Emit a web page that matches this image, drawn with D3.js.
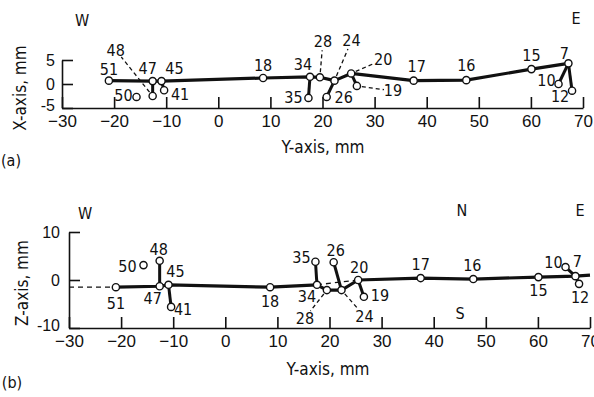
<!DOCTYPE html>
<html><head><meta charset="utf-8">
<script src="https://cdn.jsdelivr.net/npm/d3@7"></script>
<style>
body{margin:0;background:#fff;}
svg{display:block;font-family:"Liberation Sans Narrow","DejaVu Sans Condensed",sans-serif;}
</style></head><body>
<svg id="c" width="594" height="397"></svg>
<script>
// ---- data ----
const ids   = [51, 50, 48, 47, 45, 41, 18, 35, 34, 28, 26, 24, 20, 19, 17, 16, 15, 10, 7, 12];
const yVals = [-21, -15.7, -12.6, -12.6, -10.9, -10.4, 8.6, 17.3, 17.6, 19.5, 20.8, 22.3, 25.5, 26.6, 37.5, 47.6, 60.1, 65.3, 67.2, 67.9];
const xVals = [0.7, -2.7, -2.5, 0.6, 0.6, -1.3, 1.25, -2.9, 1.5, 1.4, -2.7, 0.7, 2.2, -0.4, 0.7, 0.8, 3.1, 0.0, 4.3, -1.4];
const zVals = [-1.5, 3.1, 4, -1.3, -1, -5.6, -1.5, 3.8, -1, -2.1, 3.7, -2.1, 0, -3.5, 0.4, 0.2, 0.6, 2.7, 0.8, -0.8];
const mainPath = [51, 47, 45, 18, 34, 28, 24, 20, 17, 16, 15, 7];
const branches = [[47, 48], [45, 41], [34, 35], [24, 26], [20, 19], [7, 10], [7, 12]];
const tailB = {y: 70, z: 1.0};        // trace continues past the plot edge in (b)
const startB = {y: -30, z: -1.5};     // dashed lead-in in (b)
const yTicks = [-30, -20, -10, 0, 10, 20, 30, 40, 50, 60, 70];
const xTicks = [-5, 0, 5];
const zTicks = [-10, 0, 10];

// ---- layout (label offsets in px) ----
const offA = {51:[0,-11],50:[-13,-1],48:[-37,-46],47:[-5,-13],45:[13,-13],41:[16,4],18:[0,-13],35:[-15,0],34:[-7,-12],
  28:[3,-36],26:[17,1],24:[17,-40],20:[32,-14],19:[36,5],17:[3,-14],16:[0,-15],15:[0,-14],10:[-12,-4],7:[-4,-10],12:[-12,6]};
const leadA = {48:true,28:true,24:true,20:true,19:true};
const offB = {51:[0,16],50:[-16,1],48:[-1,-11],47:[-7,12],45:[7,-13],41:[12,3],18:[0,14],35:[-14,-4],34:[-10,12],
  28:[-22,28],26:[2,-12],24:[23,26],20:[1,-13],19:[16,-1],17:[0,-14],16:[-1,-14],15:[0,13],10:[-12,-5],7:[2,-15],12:[1,14]};
const leadB = {28:true,24:true};

const pts = ids.map((id,i)=>({id, y:yVals[i], x:xVals[i], z:zVals[i]}));
const byId = {}; pts.forEach(p=>byId[p.id]=p);

const svg = d3.select("#c");

function panel(cfg){
  const g = svg.append("g");
  const sx = d3.scaleLinear([-30,70],[cfg.x0,cfg.x1]);
  const sy = d3.scaleLinear(cfg.vdom,[cfg.yb,cfg.yt]);
  const v = cfg.key;
  // x axis
  const ax = g.append("g").attr("transform",`translate(0,${cfg.yb})`)
    .call(d3.axisBottom(sx).tickValues(yTicks).tickSizeInner(-11).tickSizeOuter(0).tickPadding(6).tickFormat(d3.format("d")));
  // y axis
  const ay = g.append("g").attr("transform",`translate(${cfg.x0},0)`)
    .call(d3.axisLeft(sy).tickValues(cfg.vticks).tickSizeInner(-11).tickSizeOuter(0).tickPadding(cfg.ypad).tickFormat(d=>d));
  [ax,ay].forEach(a=>{
    a.selectAll("path,line").attr("stroke","#111").attr("stroke-width",1.6);
    a.selectAll("text").attr("fill","#111").attr("font-family",null);
  });
  ax.selectAll("text").attr("font-size",17);
  ay.selectAll("text").attr("font-size",16);
  ax.selectAll(".tick text").attr("dy","0.75em");
  ay.selectAll(".tick text").attr("dy",(d,i)=> i===0 ? "0.15em" : "0.35em");
  // dashed items
  (cfg.dashed||[]).forEach(seg=>{
    g.append("line").attr("x1",sx(seg[0].y)).attr("y1",sy(seg[0][v])).attr("x2",sx(seg[1].y)).attr("y2",sy(seg[1][v]))
      .attr("stroke","#111").attr("stroke-width",1.3).attr("stroke-dasharray","5,4");
  });
  // main trace
  const line = d3.line().x(d=>sx(d.y)).y(d=>sy(d[v]));
  const mp = mainPath.map(id=>byId[id]).concat(cfg.tail?[cfg.tail]:[]);
  g.append("path").attr("d",line(mp)).attr("fill","none").attr("stroke","#111").attr("stroke-width",3.2).attr("stroke-linejoin","round");
  branches.forEach(b=>{
    g.append("path").attr("d",line(b.map(id=>byId[id]))).attr("fill","none").attr("stroke","#111").attr("stroke-width",3);
  });
  // leaders
  const off = cfg.off, lead = cfg.lead;
  pts.forEach(p=>{
    if(!lead[p.id]) return;
    const px=sx(p.y), py=sy(p[v]);
    const lx=px+off[p.id][0], ly=py+off[p.id][1];
    const dx=lx-px, dy=ly-py, L=Math.hypot(dx,dy);
    const s=5/L, e=(L-9)/L;
    g.append("line").attr("x1",px+dx*s).attr("y1",py+dy*s).attr("x2",px+dx*e).attr("y2",py+dy*e)
      .attr("stroke","#111").attr("stroke-width",1.3).attr("stroke-dasharray","4,3");
  });
  // markers
  g.selectAll("circle.pt").data(pts).join("circle").attr("class","pt")
    .attr("cx",d=>sx(d.y)).attr("cy",d=>sy(d[v])).attr("r",3.6)
    .attr("fill","#fff").attr("stroke","#111").attr("stroke-width",1.4);
  // labels
  g.selectAll("text.lab").data(pts).join("text").attr("class","lab")
    .attr("x",d=>sx(d.y)+off[d.id][0]).attr("y",d=>sy(d[v])+off[d.id][1])
    .attr("text-anchor","middle").attr("dominant-baseline","central")
    .attr("font-size",16).attr("fill","#111").text(d=>d.id);
  // titles
  g.append("text").attr("x",cfg.titleX).attr("y",cfg.titleY).attr("text-anchor","middle").attr("font-size",17).attr("fill","#111").text("Y-axis, mm");
  g.append("text").attr("transform",`translate(${cfg.vtX},${cfg.vtY}) rotate(-90)`).attr("text-anchor","middle")
    .attr("dominant-baseline","central").attr("font-size",17).attr("fill","#111").text(cfg.vtitle);
  cfg.notes.forEach(n=>g.append("text").attr("x",n[1]).attr("y",n[2]).attr("text-anchor","middle").attr("dominant-baseline","central")
    .attr("font-size",16).attr("fill","#111").text(n[0]));
}

panel({key:"x", x0:62, x1:583, yb:108, yt:60, vdom:[-5,5], vticks:xTicks, off:offA, lead:leadA, ypad:7,
  titleX:323, titleY:153, vtX:20, vtY:88, vtitle:"X-axis, mm",
  notes:[["W",82,20],["E",576,18],["(a)",11,160]]});

panel({key:"z", x0:69, x1:590, yb:328, yt:232, vdom:[-10,10], vticks:zTicks, off:offB, lead:leadB, ypad:9,
  tail:{y:tailB.y, z:tailB.z}, dashed:[[{y:startB.y,z:startB.z},byId[51]],[byId[34],byId[20]]],
  titleX:328, titleY:375, vtX:22, vtY:283, vtitle:"Z-axis, mm",
  notes:[["W",85,213],["N",462,210],["E",580,210],["S",460,313],["(b)",12,382]]});
</script>
</body></html>
